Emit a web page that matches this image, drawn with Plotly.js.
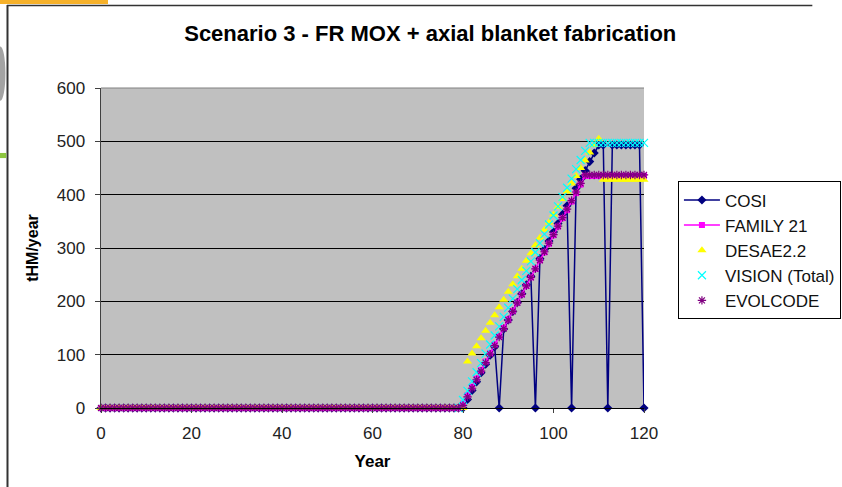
<!DOCTYPE html>
<html>
<head>
<meta charset="utf-8">
<script src="https://cdn.plot.ly/plotly-3.0.1.min.js"></script>
<style>html,body{margin:0;padding:0;background:#fff;}#chart{width:842px;height:487px;}</style>
</head>
<body>
<div id="chart"></div>
<script>
const years = [0,1,2,3,4,5,6,7,8,9,10,11,12,13,14,15,16,17,18,19,20,21,22,23,24,25,26,27,28,29,30,31,32,33,34,35,36,37,38,39,40,41,42,43,44,45,46,47,48,49,50,51,52,53,54,55,56,57,58,59,60,61,62,63,64,65,66,67,68,69,70,71,72,73,74,75,76,77,78,79,80,81,82,83,84,85,86,87,88,89,90,91,92,93,94,95,96,97,98,99,100,101,102,103,104,105,106,107,108,109,110,111,112,113,114,115,116,117,118,119,120];

const cosi = [0,0,0,0,0,0,0,0,0,0,0,0,0,0,0,0,0,0,0,0,0,0,0,0,0,0,0,0,0,0,0,0,0,0,0,0,0,0,0,0,0,0,0,0,0,0,0,0,0,0,0,0,0,0,0,0,0,0,0,0,0,0,0,0,0,0,0,0,0,0,0,0,0,0,0,0,0,0,0,0,
  0,16,33,49,66,82,99,115,0,148,165,181,198,214,231,247,0,280,297,313,330,346,363,379,0,412,429,445,462,478,493,493,0,493,493,493,493,493,493,493,0];

const family21 = [0,0,0,0,0,0,0,0,0,0,0,0,0,0,0,0,0,0,0,0,0,0,0,0,0,0,0,0,0,0,0,0,0,0,0,0,0,0,0,0,0,0,0,0,0,0,0,0,0,0,0,0,0,0,0,0,0,0,0,0,0,0,0,0,0,0,0,0,0,0,0,0,0,0,0,0,0,0,0,0,
  8,24,40,55,71,87,103,119,134,150,166,182,198,213,229,245,261,277,292,308,324,340,356,371,387,403,419,435,435,435,435,435,435,435,435,435,435,435,435,435,435];

const desae = [0,0,0,0,0,0,0,0,0,0,0,0,0,0,0,0,0,0,0,0,0,0,0,0,0,0,0,0,0,0,0,0,0,0,0,0,0,0,0,0,0,0,0,0,0,0,0,0,0,0,0,0,0,0,0,0,0,0,0,0,0,0,0,0,0,0,0,0,0,0,0,0,0,0,0,0,0,0,0,0,
  0,87,102,116,131,145,160,174,189,203,218,232,247,261,276,290,305,319,334,348,363,377,392,406,421,435,450,464,479,493,505,428,428,428,428,428,428,428,428,428,428];

const vision = [null,null,null,null,null,null,null,null,null,null,null,null,null,null,null,null,null,null,null,null,null,null,null,null,null,null,null,null,null,null,null,null,null,null,null,null,null,null,null,null,null,null,null,null,null,null,null,null,null,null,null,null,null,null,null,null,null,null,null,null,null,null,null,null,null,null,null,null,null,null,null,null,null,null,null,null,null,null,null,0,
  15,32,50,67,84,102,119,136,153,171,188,205,223,240,257,275,292,309,326,344,361,378,396,413,430,448,465,482,497,497,497,497,497,497,497,497,497,497,497,497,497];

const evolcode = [0,0,0,0,0,0,0,0,0,0,0,0,0,0,0,0,0,0,0,0,0,0,0,0,0,0,0,0,0,0,0,0,0,0,0,0,0,0,0,0,0,0,0,0,0,0,0,0,0,0,0,0,0,0,0,0,0,0,0,0,0,0,0,0,0,0,0,0,0,0,0,0,0,0,0,0,0,0,0,0,
  5,21,37,53,69,85,101,117,133,149,165,181,197,213,229,245,261,277,293,309,325,341,357,373,389,405,421,437,437,437,437,437,437,437,437,437,437,437,437,437,437];

const seriesNames = ['COSI','FAMILY 21','DESAE2.2','VISION (Total)','EVOLCODE'];
const xTicks = [0,20,40,60,80,100,120];
const yTicks = [0,100,200,300,400,500,600];

const FONT = '"Liberation Sans", Arial, sans-serif';

const traces = [
  {x: years, y: cosi, name: seriesNames[0], type: 'scatter', mode: 'lines+markers', cliponaxis: false,
   line: {color: '#000080', width: 1.5}, marker: {symbol: 'diamond', size: 7, color: '#000080'}},
  {x: years, y: family21, name: seriesNames[1], type: 'scatter', mode: 'lines+markers', cliponaxis: false,
   line: {color: '#FF00FF', width: 1.5}, marker: {symbol: 'square', size: 6, color: '#FF00FF'}},
  {x: years, y: desae, name: seriesNames[2], type: 'scatter', mode: 'markers', cliponaxis: false,
   marker: {symbol: 'triangle-up', size: 8, color: '#FFFF00'}},
  {x: years, y: vision, name: seriesNames[3], type: 'scatter', mode: 'markers', cliponaxis: false,
   marker: {symbol: 'x-thin-open', size: 8, color: '#00FFFF', line: {color: '#00FFFF', width: 1.2}}},
  {x: years, y: evolcode, name: seriesNames[4], type: 'scatter', mode: 'markers', cliponaxis: false,
   marker: {symbol: 'asterisk-open', size: 7, color: '#800080', line: {color: '#800080', width: 1.2}}}
];

const layout = {
  width: 842, height: 487,
  margin: {l: 101, r: 198, t: 88, b: 79, pad: 0, autoexpand: false},
  paper_bgcolor: '#FFFFFF',
  plot_bgcolor: '#C0C0C0',
  font: {family: FONT, size: 17, color: '#222'},
  showlegend: true,
  title: {text: 'Scenario 3 - FR MOX + axial blanket fabrication', x: 0.511, xanchor: 'center', y: 0.932, yanchor: 'middle',
          font: {family: FONT, size: 22, color: '#000', weight: 'bold'}},
  xaxis: {range: [0, 120], tickvals: xTicks, ticktext: xTicks.map(String), showgrid: false, zeroline: false,
          showline: true, linecolor: '#000', linewidth: 1, ticks: 'outside', ticklen: 4, tickcolor: '#404040',
          ticklabelstandoff: 6, tickfont: {family: FONT, size: 17, color: '#222'},
          title: {text: 'Year', standoff: 12, font: {family: FONT, size: 17, color: '#000', weight: 'bold'}}},
  yaxis: {range: [0, 600], tickvals: yTicks, ticktext: yTicks.map(String), showgrid: true, gridcolor: '#000', gridwidth: 1,
          zeroline: false, showline: true, linecolor: '#404040', linewidth: 1.5, ticks: 'outside', ticklen: 5, tickcolor: '#404040',
          ticklabelstandoff: 6, tickfont: {family: FONT, size: 17, color: '#222'},
          title: {text: 'tHM/year', standoff: 14, font: {family: FONT, size: 16, color: '#000', weight: 'bold'}}},
  legend: {x: 1.0625, xanchor: 'left', y: 0.708, yanchor: 'top', bgcolor: '#FFFFFF', bordercolor: '#000', borderwidth: 1,
           itemwidth: 36, font: {family: FONT, size: 17, color: '#111'}, tracegroupgap: 0},
  shapes: [
    {type: 'line', xref: 'paper', yref: 'paper', x0: 0, x1: 1, y0: 1, y1: 1, line: {color: '#808080', width: 1}},
    {type: 'line', xref: 'paper', yref: 'paper', x0: -0.1722, x1: -0.1722, y0: 1.2594, y1: -0.25, line: {color: '#333', width: 2}},
    {type: 'line', xref: 'paper', yref: 'paper', x0: -0.1731, x1: 1.31, y0: 1.2578, y1: 1.2578, line: {color: '#333', width: 1.5}},
    {type: 'rect', xref: 'paper', yref: 'paper', x0: -0.19, x1: 0.0129, y0: 1.2625, y1: 1.28, fillcolor: '#F6B12A', line: {width: 0}},
    {type: 'rect', xref: 'paper', yref: 'paper', x0: -0.19, x1: -0.1745, y0: 0.781, y1: 0.797, fillcolor: '#8DC63F', line: {width: 0}},
    {type: 'circle', xref: 'paper', yref: 'paper', x0: -0.195, x1: -0.176, y0: 0.96, y1: 1.13, fillcolor: '#666', opacity: 0.6, line: {width: 0}}
  ]
};

Plotly.newPlot('chart', traces, layout, {displayModeBar: false, staticPlot: true});
</script>
</body>
</html>
